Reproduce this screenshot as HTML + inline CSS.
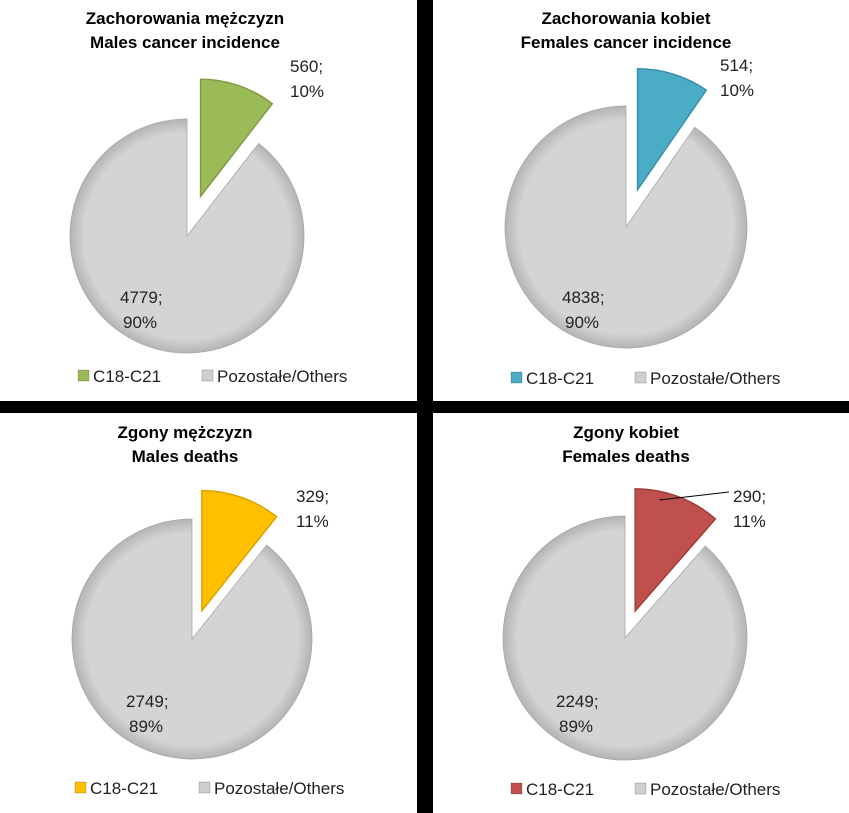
<!DOCTYPE html>
<html><head><meta charset="utf-8"><style>
html,body{margin:0;padding:0;background:#fff;}
svg{display:block;font-family:"Liberation Sans",Arial,sans-serif;}
</style></head><body>
<svg id="chart" width="849" height="813" viewBox="0 0 849 813">
<defs>
<radialGradient id="gGrey" cx="50%" cy="50%" r="50%"><stop offset="0.88" stop-color="#d4d4d4"/><stop offset="1" stop-color="#b4b4b4"/></radialGradient>
</defs>
<rect x="417" y="0" width="16" height="813" fill="#000"/>
<rect x="0" y="401" width="849" height="12" fill="#000"/>
<g id="charts"></g>
</svg>
<script>
const panelTitles1 = ["Zachorowania mężczyzn","Zachorowania kobiet","Zgony mężczyzn","Zgony kobiet"];
const panelTitles2 = ["Males cancer incidence","Females cancer incidence","Males deaths","Females deaths"];
const categories = ["C18-C21","Pozostałe/Others"];
const cancerValues = [560, 514, 329, 290];
const otherValues = [4779, 4838, 2749, 2249];
const cancerPct = ["10%","10%","11%","11%"];
const otherPct = ["90%","90%","89%","89%"];

const layout = [
  {cx:187, cy:236, r:117, d:42, tx:185, ty:18, ly:382, lx:78, c1:[290,72], c2:[120,303], fill:"#9bbb59", st:"#7e9c44"},
  {cx:626, cy:227, r:121, d:39, tx:626, ty:18, ly:384, lx:511, c1:[720,71], c2:[562,303], fill:"#4bacc6", st:"#3890a8"},
  {cx:192, cy:639, r:120, d:30, tx:185, ty:432, ly:794, lx:75, c1:[296,502], c2:[126,707], fill:"#ffc000", st:"#d9a300"},
  {cx:625, cy:638, r:122, d:29, tx:626, ty:432, ly:795, lx:511, c1:[733,502], c2:[556,707], fill:"#c0504d", st:"#9e3d3a", leader:true}
];
const NS = "http://www.w3.org/2000/svg";
const root = document.getElementById("charts");
function mk(tag, attrs, parent){const e=document.createElementNS(NS,tag);for(const k in attrs)e.setAttribute(k,attrs[k]);parent.appendChild(e);return e;}
function pt(cx,cy,r,a){return [cx+r*Math.sin(a), cy-r*Math.cos(a)];}
function arc(cx,cy,r,a0,a1){const p0=pt(cx,cy,r,a0),p1=pt(cx,cy,r,a1);const large=(a1-a0)>Math.PI?1:0;
  return `M${cx},${cy} L${p0[0]},${p0[1]} A${r},${r} 0 ${large} 1 ${p1[0]},${p1[1]} Z`;}

layout.forEach((L,i)=>{
  const g = mk("g",{},root);
  
  
  const t1 = mk("text",{x:L.tx,y:L.ty+6,"text-anchor":"middle","font-size":"17","font-weight":"bold",fill:"#000"},g);
  t1.textContent = panelTitles1[i];
  
  
  const t2 = mk("text",{x:L.tx,y:L.ty+30,"text-anchor":"middle","font-size":"17","font-weight":"bold",fill:"#000"},g);
  t2.textContent = panelTitles2[i];
  
  
  const total = cancerValues[i] + otherValues[i];
  const a = 2*Math.PI*cancerValues[i]/total;
  const grey = mk("path",{d:arc(L.cx,L.cy,L.r,a,2*Math.PI),fill:"url(#gGrey)",stroke:"#a8a8a8","stroke-width":"0.8"},g);
  
  
  const mid = a/2;
  const ox = L.d*Math.sin(mid), oy = -L.d*Math.cos(mid);
  const sl = mk("path",{d:arc(L.cx+ox,L.cy+oy,L.r,0,a),fill:L.fill,stroke:L.st,"stroke-width":"1.5"},g);
  
  
  if(L.leader){
    const p = pt(L.cx+ox,L.cy+oy,L.r*0.93,mid*0.6);
    const ln = mk("line",{x1:p[0],y1:p[1],x2:L.c1[0]-4,y2:L.c1[1]-10,stroke:"#000","stroke-width":"1"},g);
    
    
  }
  const lab1 = [[cancerValues[i]+";",cancerPct[i]],[otherValues[i]+";",otherPct[i]]];
  [L.c1,L.c2].forEach((pos,k)=>{
    const tx = mk("text",{x:pos[0],y:pos[1],"font-size":"17",fill:"#222"},g);
    tx.textContent = lab1[k][0];
    
    
    const ty = mk("text",{x:pos[0]+(k===0?0:3),y:pos[1]+25,"font-size":"17",fill:"#222"},g);
    ty.textContent = lab1[k][1];
    
    
  });
  const sw1 = mk("rect",{x:L.lx,y:L.ly-12,width:11,height:11,fill:L.fill,stroke:"rgba(0,0,0,0.3)","stroke-width":"0.6"},g);
  
  
  const le1 = mk("text",{x:L.lx+15,y:L.ly,"font-size":"17",fill:"#222"},g);
  le1.textContent = categories[0];
  
  
  const sw2 = mk("rect",{x:L.lx+124,y:L.ly-12,width:11,height:11,fill:"#cfcfcf",stroke:"rgba(0,0,0,0.3)","stroke-width":"0.6"},g);
  
  
  const le2 = mk("text",{x:L.lx+139,y:L.ly,"font-size":"17",fill:"#222"},g);
  le2.textContent = categories[1];
  
  
});
</script>
</body></html>
